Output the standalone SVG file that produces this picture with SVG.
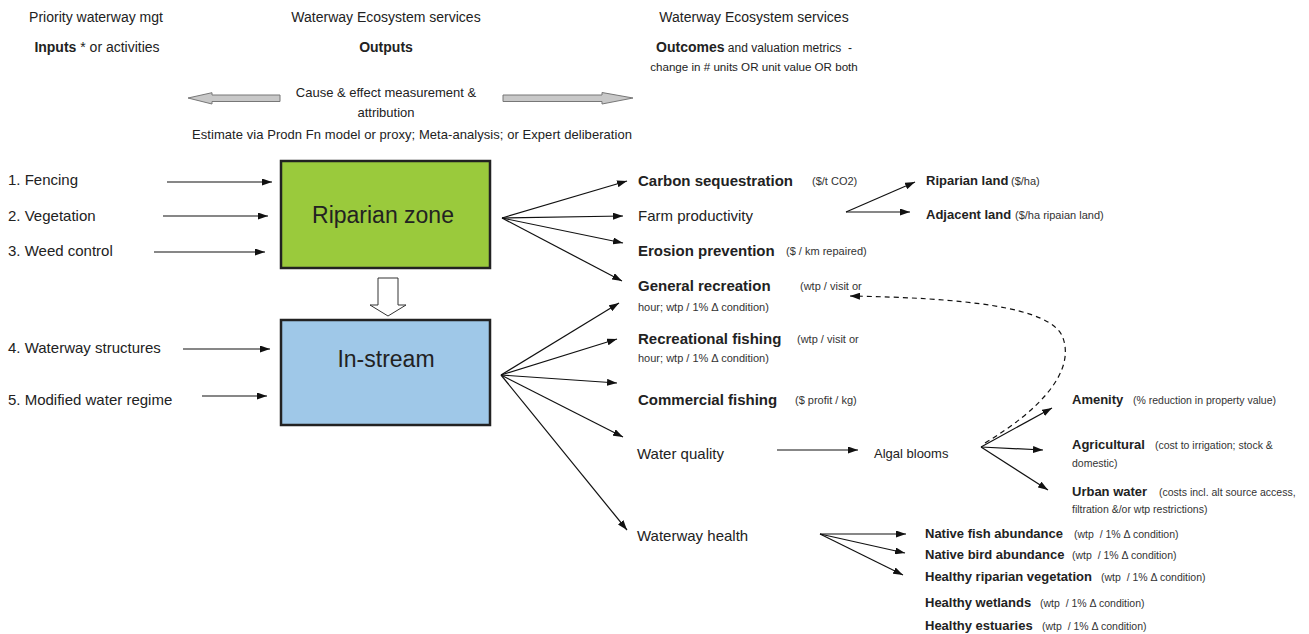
<svg xmlns="http://www.w3.org/2000/svg" width="1309" height="634" viewBox="0 0 1309 634">
<defs>
<marker id="ah" viewBox="0 0 10 7" refX="10" refY="3.5" markerWidth="10" markerHeight="7" markerUnits="userSpaceOnUse" orient="auto"><path d="M0,0 L10,3.5 L0,7 z" fill="#111"/></marker>
<style>
text{font-family:"Liberation Sans",Arial,sans-serif;fill:#222}
.h{font-size:14px}
.b{font-weight:bold}
.l{font-size:15px}
.m{font-size:13px}
.s{font-size:11px;fill:#333}
.ss{font-size:10.5px;fill:#333;white-space:pre}
.pre{white-space:pre}
.box{stroke:#222;stroke-width:2.5}
.conn line,.conn path{stroke:#111;stroke-width:1.2;fill:none;marker-end:url(#ah)}
.conn .dash{stroke-dasharray:5,4}
.hollow{fill:#c8c8c8;stroke:#777;stroke-width:1}
</style>
</defs>
<rect width="1309" height="634" fill="#fff"/>

<g id="headers">
<text class="h" x="96" y="22" text-anchor="middle">Priority waterway mgt</text>
<text class="h" x="97" y="52" text-anchor="middle"><tspan class="b">Inputs</tspan> * or activities</text>
<text class="h" x="386" y="22" text-anchor="middle">Waterway Ecosystem services</text>
<text class="h b" x="386" y="52" text-anchor="middle">Outputs</text>
<text class="h" x="754" y="22" text-anchor="middle">Waterway Ecosystem services</text>
<text class="pre" x="754" y="52" text-anchor="middle" font-size="12"><tspan class="b" font-size="14">Outcomes</tspan> and valuation metrics  -</text>
<text x="754" y="71" text-anchor="middle" font-size="11.6">change in # units OR unit value OR both</text>
</g>

<g id="attribution">
<polygon class="hollow" points="188,98 212,92.7 212,95 280,95 280,101.5 212,101.5 212,104"/>
<polygon class="hollow" points="503,95 602,95 602,92.5 633,98 602,104 602,101.5 503,101.5"/>
<text class="m" x="386" y="97" text-anchor="middle">Cause &amp; effect measurement &amp;</text>
<text class="m" x="386" y="117" text-anchor="middle">attribution</text>
<text class="m" x="412" y="139" text-anchor="middle" textLength="440">Estimate via Prodn Fn model or proxy; Meta-analysis; or Expert deliberation</text>
</g>

<g id="inputs">
<text class="l" x="8" y="185">1. Fencing</text>
<text class="l" x="8" y="221">2. Vegetation</text>
<text class="l" x="8" y="256">3. Weed control</text>
<text class="l" x="8" y="353">4. Waterway structures</text>
<text class="l" x="8" y="405">5. Modified water regime</text>
</g>

<g id="riparian">
<rect class="box" x="281" y="161" width="209" height="107" fill="#9ACA3C"/>
<text x="383" y="223" text-anchor="middle" font-size="23">Riparian zone</text>
</g>

<g id="flow-down">
<polygon points="378,278 398,278 398,305 406,305 388,316 370,305 378,305" fill="#fff" stroke="#333" stroke-width="1"/>
</g>

<g id="instream">
<rect class="box" x="281" y="320" width="209" height="105" fill="#9FC8E8"/>
<text x="386" y="367" text-anchor="middle" font-size="23">In-stream</text>
</g>

<g id="outputs">
<text class="l b" x="638" y="186">Carbon sequestration</text>
<text class="s" x="812" y="185">($/t CO2)</text>
<text class="l" x="638" y="221">Farm productivity</text>
<text class="l b" x="638" y="256">Erosion prevention</text>
<text class="s" x="786" y="255">($ / km repaired)</text>
<text class="l b" x="638" y="291">General recreation</text>
<text class="s" x="800" y="290" font-size="10.5">(wtp / visit or</text>
<text class="s" x="638" y="311" font-size="11.5">hour; wtp / 1% Δ condition)</text>
<text class="l b" x="638" y="344">Recreational fishing</text>
<text class="s" x="797" y="343">(wtp / visit or</text>
<text class="s" x="638" y="362" font-size="11.5">hour; wtp / 1% Δ condition)</text>
<text class="l b" x="638" y="405">Commercial fishing</text>
<text class="s" x="795" y="404">($ profit / kg)</text>
<text class="l" x="637" y="459">Water quality</text>
<text class="m" x="874" y="458">Algal blooms</text>
<text class="l" x="637" y="541">Waterway health</text>
</g>

<g id="outcomes">
<text class="m b" x="926" y="185">Riparian land</text>
<text class="s" x="1011" y="185">($/ha)</text>
<text class="m b" x="926" y="219">Adjacent land</text>
<text class="s" x="1015" y="219">($/ha ripaian land)</text>
<text class="m b" x="1072" y="404">Amenity</text>
<text class="ss" x="1133" y="404">(% reduction in property value)</text>
<text class="m b" x="1072" y="449">Agricultural</text>
<text class="ss" x="1155" y="449">(cost to irrigation; stock &amp;</text>
<text class="ss" x="1072" y="467">domestic)</text>
<text class="m b" x="1072" y="496">Urban water</text>
<text class="ss" x="1159" y="496">(costs incl. alt source access,</text>
<text class="ss" x="1072" y="513">filtration &amp;/or wtp restrictions)</text>
<text class="m b" x="925" y="538">Native fish abundance</text>
<text class="ss" x="1074" y="538">(wtp  / 1% Δ condition)</text>
<text class="m b" x="925" y="559">Native bird abundance</text>
<text class="ss" x="1072" y="559">(wtp  / 1% Δ condition)</text>
<text class="m b" x="925" y="581">Healthy riparian vegetation</text>
<text class="ss" x="1101" y="581">(wtp  / 1% Δ condition)</text>
<text class="m b" x="925" y="607">Healthy wetlands</text>
<text class="ss" x="1040" y="607">(wtp  / 1% Δ condition)</text>
<text class="m b" x="925" y="630">Healthy estuaries</text>
<text class="ss" x="1042" y="630">(wtp  / 1% Δ condition)</text>
</g>

<g id="connectors" class="conn">
<line x1="167" y1="182" x2="272" y2="182"/>
<line x1="163" y1="216" x2="268" y2="216"/>
<line x1="154" y1="252" x2="265" y2="252"/>
<line x1="183" y1="349" x2="270" y2="349"/>
<line x1="202" y1="396" x2="267" y2="396"/>
<line x1="502" y1="218" x2="627" y2="181"/>
<line x1="502" y1="218" x2="623" y2="216"/>
<line x1="502" y1="218" x2="623" y2="243"/>
<line x1="502" y1="218" x2="622" y2="281"/>
<line x1="501" y1="375" x2="619" y2="303"/>
<line x1="501" y1="375" x2="617" y2="339"/>
<line x1="501" y1="375" x2="617" y2="383"/>
<line x1="501" y1="375" x2="623" y2="437"/>
<line x1="501" y1="375" x2="627" y2="530"/>
<line x1="846" y1="212" x2="915" y2="182"/>
<line x1="846" y1="212" x2="910" y2="212"/>
<line x1="777" y1="450" x2="858" y2="450"/>
<line x1="981" y1="447" x2="1052" y2="408"/>
<line x1="981" y1="447" x2="1043" y2="450"/>
<line x1="981" y1="447" x2="1048" y2="490"/>
<line x1="820" y1="534" x2="906" y2="534"/>
<line x1="820" y1="534" x2="905" y2="553"/>
<line x1="820" y1="534" x2="903" y2="575"/>
<path class="dash" d="M985,443 C1040,410 1075,372 1063,338 C1052,306 960,298 850,296"/>
</g>
</svg>
